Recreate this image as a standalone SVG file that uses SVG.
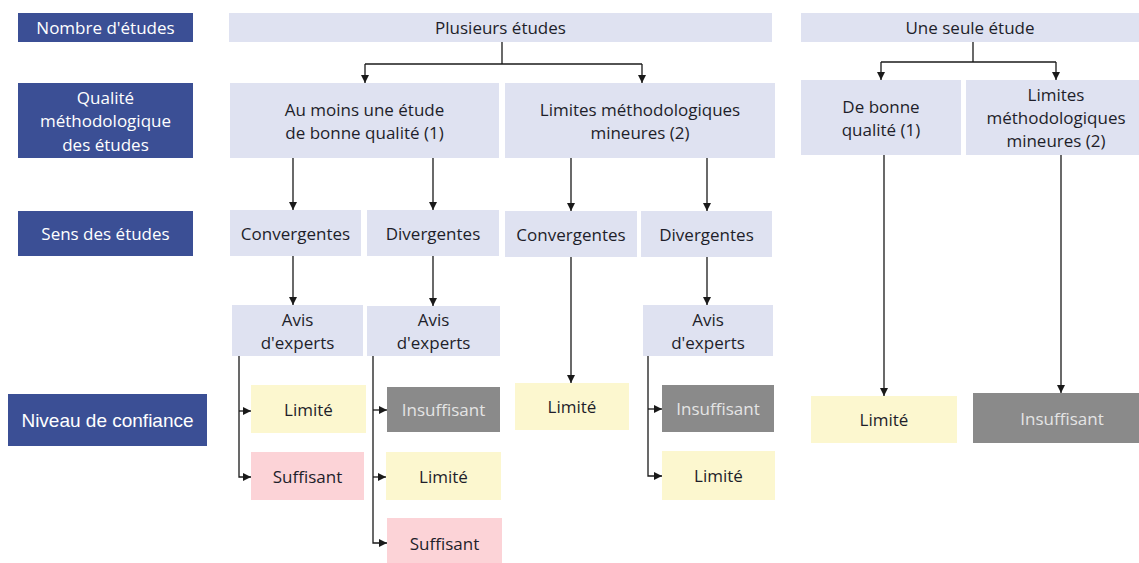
<svg xmlns="http://www.w3.org/2000/svg" width="1139" height="563" viewBox="0 0 1139 563">
<style>
text{font-family:"Open Sans","Noto Sans","Liberation Sans",sans-serif;font-size:17px;font-weight:500;text-anchor:middle;dominant-baseline:central;fill:#1e1e2a}
.hd rect{fill:#3b4f95}
.hd text{fill:#ffffff}
.bx rect{fill:#dfe2f1}
.ly rect{fill:#fcf7cf}
.pk rect{fill:#fcd3d7}
.gr rect{fill:#8a8a8a}
.gr text{fill:#e4e4e4}
.c path{fill:none;stroke:#1a1a1a;stroke-width:1.3}
</style>
<defs>
<marker id="ah" viewBox="0 0 10 10" refX="10" refY="5" markerWidth="8" markerHeight="8" markerUnits="userSpaceOnUse" orient="auto">
<path d="M0,0 L10,5 L0,10 z" fill="#1a1a1a"/>
</marker>
</defs>
<rect width="1139" height="563" fill="#ffffff"/>

<g id="h1" class="hd"><rect x="18" y="13" width="175" height="29"/><text x="105.5" y="27.5">Nombre d'études</text></g>
<g id="h2" class="hd"><rect x="18" y="83" width="175" height="75"/><text x="105.5" y="97">Qualité</text><text x="105.5" y="120.5">méthodologique</text><text x="105.5" y="144">des études</text></g>
<g id="h3" class="hd"><rect x="18" y="211" width="175" height="45"/><text x="105.5" y="233.5">Sens des études</text></g>
<g id="h4" class="hd"><rect x="8" y="394" width="199" height="52"/><text x="107.5" y="420" style="font-family:'Liberation Sans',Arial,sans-serif;font-size:19px;font-weight:400">Niveau de confiance</text></g>

<g id="plusieurs" class="bx"><rect x="229" y="13" width="543" height="29"/><text x="500.5" y="27.5">Plusieurs études</text></g>
<g id="une" class="bx"><rect x="801" y="13" width="338" height="29"/><text x="970" y="27.5">Une seule étude</text></g>

<g id="aumoins" class="bx"><rect x="230" y="83" width="269" height="75"/><text x="364.5" y="109">Au moins une étude</text><text x="364.5" y="132">de bonne qualité (1)</text></g>
<g id="limites" class="bx"><rect x="505" y="83" width="270" height="75"/><text x="640" y="109">Limites méthodologiques</text><text x="640" y="132">mineures (2)</text></g>
<g id="bonne" class="bx"><rect x="801" y="80" width="160" height="75"/><text x="881" y="106">De bonne</text><text x="881" y="129">qualité (1)</text></g>
<g id="limites2" class="bx"><rect x="966" y="80" width="173" height="75"/><text x="1056" y="94.5">Limites</text><text x="1056" y="117.5">méthodologiques</text><text x="1056" y="140.5">mineures (2)</text></g>

<g id="conv1" class="bx"><rect x="230" y="210" width="131" height="46"/><text x="295.5" y="233">Convergentes</text></g>
<g id="div1" class="bx"><rect x="367" y="210" width="132" height="46"/><text x="433" y="233">Divergentes</text></g>
<g id="conv2" class="bx"><rect x="505" y="211" width="132" height="46"/><text x="571" y="234">Convergentes</text></g>
<g id="div2" class="bx"><rect x="641" y="211" width="131" height="46"/><text x="706.5" y="234">Divergentes</text></g>

<g id="avis1" class="bx"><rect x="232" y="305" width="131" height="51"/><text x="297.5" y="319">Avis</text><text x="297.5" y="342">d'experts</text></g>
<g id="avis2" class="bx"><rect x="367" y="306" width="133" height="50"/><text x="433.5" y="319.5">Avis</text><text x="433.5" y="342.5">d'experts</text></g>
<g id="avis3" class="bx"><rect x="643" y="305" width="130" height="51"/><text x="708" y="319">Avis</text><text x="708" y="342">d'experts</text></g>

<g id="lim1" class="ly"><rect x="251" y="385" width="115" height="48"/><text x="308.5" y="409">Limité</text></g>
<g id="suf1" class="pk"><rect x="251" y="452" width="113" height="48"/><text x="307.5" y="476">Suffisant</text></g>
<g id="ins2" class="gr"><rect x="387" y="387" width="113" height="45"/><text x="443.5" y="409.5">Insuffisant</text></g>
<g id="lim2" class="ly"><rect x="386" y="452" width="115" height="48"/><text x="443.5" y="476">Limité</text></g>
<g id="suf2" class="pk"><rect x="387" y="518" width="115" height="45"/><text x="444.5" y="543">Suffisant</text></g>
<g id="lim3" class="ly"><rect x="515" y="383" width="114" height="47"/><text x="572" y="406.5">Limité</text></g>
<g id="ins4" class="gr"><rect x="662" y="385" width="112" height="47"/><text x="718" y="408.5">Insuffisant</text></g>
<g id="lim4" class="ly"><rect x="662" y="451" width="113" height="49"/><text x="718.5" y="475.5">Limité</text></g>
<g id="lim5" class="ly"><rect x="811" y="396" width="146" height="47"/><text x="884" y="419.5">Limité</text></g>
<g id="ins5" class="gr"><rect x="973" y="393" width="166" height="50"/><text x="1062" y="418">Insuffisant</text></g>

<g id="connectors" class="c">
<path d="M502,42 V64"/>
<path d="M365,64 H642"/>
<path d="M365,64 V83" marker-end="url(#ah)"/>
<path d="M642,64 V83" marker-end="url(#ah)"/>
<path d="M973,42 V62"/>
<path d="M881,62 H1056"/>
<path d="M881,62 V80" marker-end="url(#ah)"/>
<path d="M1056,62 V80" marker-end="url(#ah)"/>

<path d="M293,158 V210" marker-end="url(#ah)"/>
<path d="M433,158 V210" marker-end="url(#ah)"/>
<path d="M571,158 V211" marker-end="url(#ah)"/>
<path d="M707,158 V211" marker-end="url(#ah)"/>

<path d="M293,256 V305" marker-end="url(#ah)"/>
<path d="M433,256 V306" marker-end="url(#ah)"/>
<path d="M707,257 V305" marker-end="url(#ah)"/>
<path d="M571,257 V383" marker-end="url(#ah)"/>

<path d="M239,356 V477 H251" marker-end="url(#ah)"/>
<path d="M239,411 H251" marker-end="url(#ah)"/>
<path d="M373,356 V543 H387" marker-end="url(#ah)"/>
<path d="M373,410 H387" marker-end="url(#ah)"/>
<path d="M373,477 H386" marker-end="url(#ah)"/>
<path d="M648,356 V476 H662" marker-end="url(#ah)"/>
<path d="M648,409 H662" marker-end="url(#ah)"/>

<path d="M884,155 V396" marker-end="url(#ah)"/>
<path d="M1061,155 V393" marker-end="url(#ah)"/>
</g>
</svg>
